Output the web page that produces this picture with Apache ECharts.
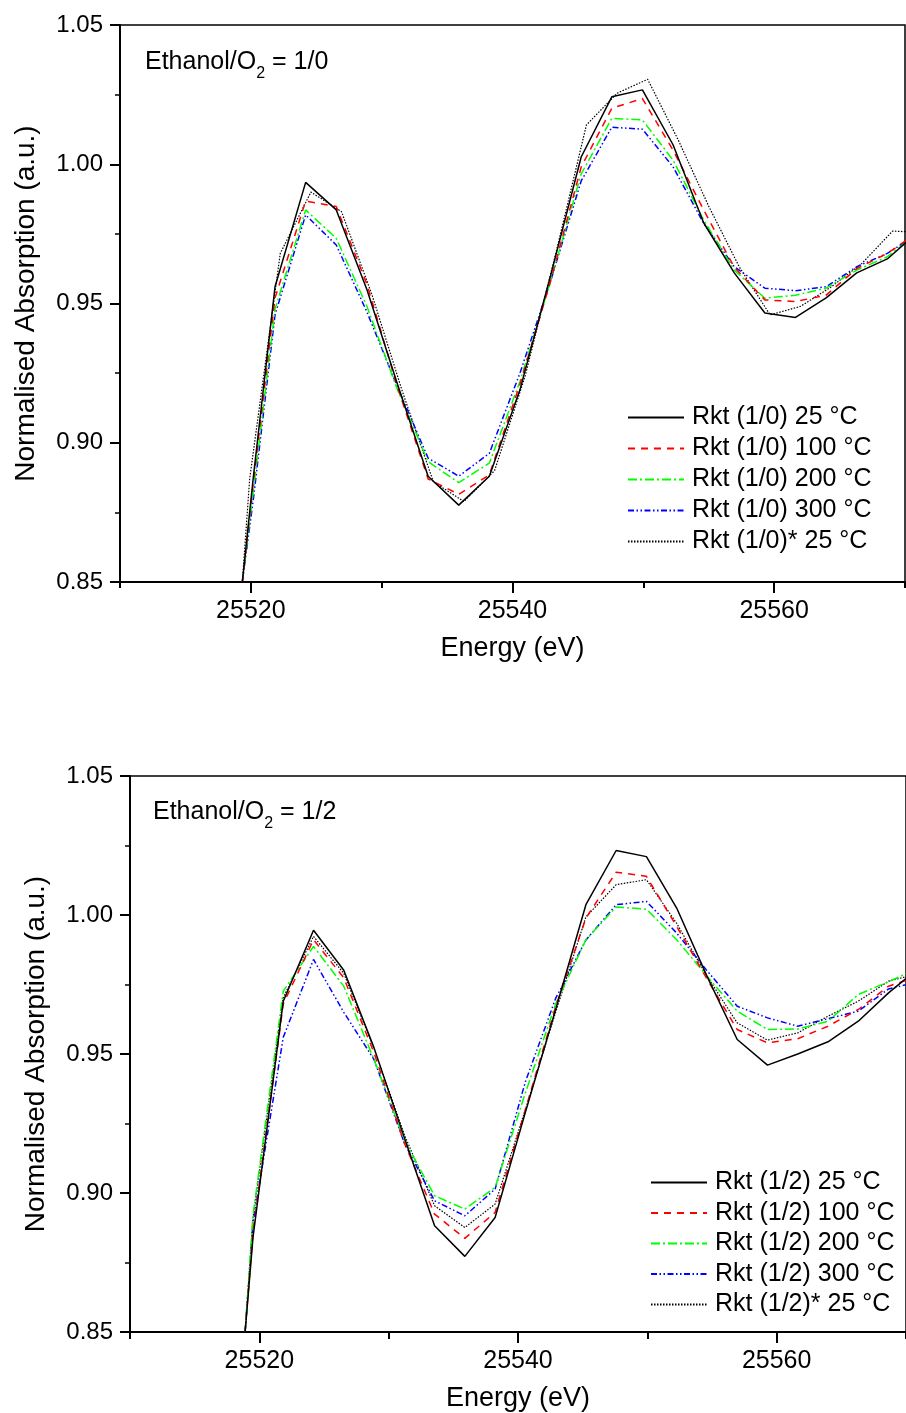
<!DOCTYPE html>
<html>
<head>
<meta charset="utf-8">
<script src="https://cdn.jsdelivr.net/npm/echarts@6/dist/echarts.min.js"></script>
<style>
html,body{margin:0;padding:0;background:#fff;}
#chart{width:906px;height:1413px;}
</style>
</head>
<body>
<div id="chart"></div>
<script>
// ---------- DATA ----------
var topEnergy = [25519.35, 25520.2, 25521.85, 25524.19, 25526.53, 25528.87, 25531.21, 25533.55, 25535.89, 25538.23, 25540.57, 25542.91, 25545.25, 25547.59, 25549.93, 25552.27, 25554.61, 25556.95, 25559.29, 25561.63, 25563.97, 25566.31, 25568.65, 25570.99];
var topEnergyDot = [25519.35, 25519.91, 25522.25, 25524.59, 25526.93, 25529.27, 25531.61, 25533.95, 25536.29, 25538.63, 25540.97, 25543.31, 25545.65, 25547.99, 25550.33, 25552.67, 25555.01, 25557.35, 25559.69, 25562.03, 25564.37, 25566.71, 25569.05, 25571.39];
var top25  = [0.85, 0.888, 0.956, 0.9935, 0.9836, 0.955, 0.921, 0.888, 0.8776, 0.888, 0.919, 0.960, 1.0026, 1.0242, 1.0267, 1.007, 0.979, 0.961, 0.9466, 0.945, 0.952, 0.961, 0.966, 0.9757];
var top100 = [0.85, 0.886, 0.952, 0.9868, 0.9848, 0.957, 0.920, 0.887, 0.8815, 0.8885, 0.921, 0.958, 0.999, 1.0201, 1.0236, 1.0051, 0.9836, 0.963, 0.9513, 0.9507, 0.953, 0.9625, 0.968, 0.9755];
var top200 = [0.85, 0.883, 0.948, 0.9836, 0.9734, 0.949, 0.919, 0.8932, 0.8857, 0.8927, 0.922, 0.958, 0.9965, 1.0165, 1.0159, 1.0015, 0.980, 0.962, 0.9519, 0.953, 0.9555, 0.962, 0.9668, 0.9752];
var top300 = [0.85, 0.880, 0.946, 0.9818, 0.971, 0.947, 0.920, 0.8945, 0.888, 0.8962, 0.925, 0.958, 0.994, 1.0133, 1.0126, 0.9991, 0.9788, 0.9632, 0.9555, 0.9546, 0.956, 0.9632, 0.968, 0.975];
var top25b = [0.85, 0.887, 0.968, 0.990, 0.983, 0.953, 0.918, 0.886, 0.8789, 0.890, 0.924, 0.968, 1.0141, 1.0255, 1.0305, 1.0087, 0.9848, 0.963, 0.9459, 0.949, 0.956, 0.9644, 0.976, 0.9755];

var bottomEnergy = [25518.9, 25519.51, 25521.85, 25524.19, 25526.53, 25528.87, 25531.21, 25533.55, 25535.89, 25538.23, 25540.57, 25542.91, 25545.25, 25547.59, 25549.93, 25552.27, 25554.61, 25556.95, 25559.29, 25561.63, 25563.97, 25566.31, 25568.65, 25570.99];
var bot25  = [0.85, 0.884, 0.969, 0.9945, 0.9801, 0.9522, 0.920, 0.8882, 0.8772, 0.8912, 0.929, 0.966, 1.0037, 1.0232, 1.0210, 1.0025, 0.978, 0.9552, 0.946, 0.950, 0.9544, 0.9618, 0.972, 0.981];
var bot100 = [0.85, 0.886, 0.968, 0.9911, 0.9774, 0.9504, 0.918, 0.8924, 0.8837, 0.893, 0.930, 0.967, 0.9989, 1.0154, 1.0139, 0.9959, 0.977, 0.9588, 0.954, 0.9555, 0.960, 0.966, 0.9744, 0.978];
var bot200 = [0.85, 0.892, 0.9726, 0.9887, 0.9744, 0.948, 0.919, 0.899, 0.8942, 0.902, 0.936, 0.968, 0.9911, 1.0029, 1.0021, 0.9911, 0.978, 0.9654, 0.9588, 0.959, 0.9618, 0.9714, 0.976, 0.981];
var bot300 = [0.85, 0.889, 0.956, 0.984, 0.965, 0.948, 0.918, 0.8972, 0.8918, 0.9014, 0.940, 0.970, 0.991, 1.0037, 1.0049, 0.9935, 0.980, 0.9672, 0.963, 0.960, 0.9627, 0.9654, 0.9734, 0.976];
var bot25b = [0.85, 0.891, 0.9703, 0.9923, 0.979, 0.952, 0.921, 0.8954, 0.8876, 0.896, 0.930, 0.965, 0.9993, 1.0109, 1.0127, 0.997, 0.978, 0.9612, 0.955, 0.9576, 0.9636, 0.969, 0.9762, 0.979];

var topNames = ['Rkt (1/0) 25 °C', 'Rkt (1/0) 100 °C', 'Rkt (1/0) 200 °C', 'Rkt (1/0) 300 °C', 'Rkt (1/0)* 25 °C'];
var botNames = ['Rkt (1/2) 25 °C', 'Rkt (1/2) 100 °C', 'Rkt (1/2) 200 °C', 'Rkt (1/2) 300 °C', 'Rkt (1/2)* 25 °C'];
var xLabelTicks = [25520, 25540, 25560];
var xMinorTicks = [25510, 25530, 25550, 25570];

// ---------- STYLE ----------
var FONT = '"Liberation Sans", Arial, Helvetica, sans-serif';
var styles = [
  {color: '#000000', type: 'solid', width: 1.5},
  {color: '#ff0000', type: [7, 6], width: 1.5},
  {color: '#00ff00', type: [9, 3, 2, 3], width: 1.5},
  {color: '#0000ff', type: [6, 2.5, 1.5, 2.5, 1.5, 2.5], width: 1.5},
  {color: '#000000', type: [1.5, 1.5], width: 1.2}
];

function pairs(xs, ys) { return xs.map(function (x, i) { return [x, ys[i]]; }); }

var topSets = [[topEnergy, top25], [topEnergy, top100], [topEnergy, top200], [topEnergy, top300], [topEnergyDot, top25b]];
var botSets = [[bottomEnergy, bot25], [bottomEnergy, bot100], [bottomEnergy, bot200], [bottomEnergy, bot300], [bottomEnergy, bot25b]];

var series = [];
topSets.forEach(function (s, i) {
  series.push({
    name: topNames[i], type: 'line', xAxisIndex: 0, yAxisIndex: 0,
    data: pairs(s[0], s[1]), symbol: 'none', clip: true, z: 10 - i,
    lineStyle: styles[i], itemStyle: {color: styles[i].color}
  });
});
botSets.forEach(function (s, i) {
  series.push({
    name: botNames[i], type: 'line', xAxisIndex: 2, yAxisIndex: 2,
    data: pairs(s[0], s[1]), symbol: 'none', clip: true, z: 10 - i,
    lineStyle: styles[i], itemStyle: {color: styles[i].color}
  });
});

var gridTop = {left: 120, top: 25, width: 785, height: 557};
var gridBot = {left: 130, top: 776, width: 784, height: 557};

function mainX(gridIndex) {
  return {
    type: 'value', gridIndex: gridIndex, min: 25510, max: 25570, interval: 10,
    name: 'Energy (eV)', nameLocation: 'middle', nameGap: 53,
    nameTextStyle: {fontSize: 27, color: '#000', fontFamily: FONT},
    axisLine: {show: true, lineStyle: {color: '#000', width: 2}},
    axisTick: {show: true, inside: false, length: 11, customValues: xLabelTicks, lineStyle: {color: '#000', width: 2}},
    axisLabel: {show: true, customValues: xLabelTicks, margin: 17, fontSize: 25, color: '#000', fontFamily: FONT,
      formatter: function (v) { return String(Math.round(v)); }},
    splitLine: {show: false}
  };
}
function minorX(gridIndex) {
  return {
    type: 'value', gridIndex: gridIndex, min: 25510, max: 25570, interval: 10,
    axisLine: {show: false},
    axisTick: {show: true, inside: false, length: 6, customValues: xMinorTicks, lineStyle: {color: '#000', width: 2}},
    axisLabel: {show: false}, splitLine: {show: false}
  };
}
function mainY(gridIndex) {
  return {
    type: 'value', gridIndex: gridIndex, min: 0.85, max: 1.05, interval: 0.05,
    name: 'Normalised Absorption (a.u.)', nameLocation: 'middle', nameGap: 80,
    nameTextStyle: {fontSize: 28, color: '#000', fontFamily: FONT},
    axisLine: {show: true, lineStyle: {color: '#000', width: 2}},
    axisTick: {show: true, inside: false, length: 10, lineStyle: {color: '#000', width: 2}},
    minorTick: {show: true, splitNumber: 2, length: 5, lineStyle: {color: '#000', width: 1.5}},
    axisLabel: {margin: 17, fontSize: 24, color: '#000', fontFamily: FONT,
      formatter: function (v) { return v.toFixed(2); }},
    splitLine: {show: false}, minorSplitLine: {show: false}
  };
}
function hiddenY(gridIndex) {
  return {type: 'value', gridIndex: gridIndex, min: 0.85, max: 1.05, show: false};
}

function legendFor(names, left, top, gap) {
  return {
    data: names, orient: 'vertical', left: left, top: top, padding: 0,
    itemWidth: 56, itemHeight: 14, itemGap: gap,
    itemStyle: {opacity: 0},
    textStyle: {fontSize: 25, color: '#000', fontFamily: FONT, padding: [0, 0, 0, 3]},
    selectedMode: false
  };
}

// annotation "Ethanol/O2 = r" with a real subscript, pieces placed by measured widths
var ctx = document.createElement('canvas').getContext('2d');
function textW(t, size) { ctx.font = size + 'px "Liberation Sans", Arial, sans-serif'; return ctx.measureText(t).width; }
function annotation(left, top, ratio) {
  var wA = textW('Ethanol/O', 25), w2 = textW('2', 16);
  var base = {fontSize: 25, fontFamily: FONT, fill: '#000'};
  return [
    {type: 'text', left: left, top: top, z: 100, style: Object.assign({text: 'Ethanol/O'}, base)},
    {type: 'text', left: left + wA, top: top + 16, z: 100, style: {text: '2', fontSize: 16, fontFamily: FONT, fill: '#000'}},
    {type: 'text', left: left + wA + w2, top: top, z: 100, style: Object.assign({text: ' = ' + ratio}, base)}
  ];
}

var option = {
  backgroundColor: '#fff',
  animation: false,
  grid: [
    Object.assign({show: true, borderColor: '#000', borderWidth: 1.5, backgroundColor: 'transparent'}, gridTop),
    Object.assign({show: false}, gridTop),
    Object.assign({show: true, borderColor: '#000', borderWidth: 1.5, backgroundColor: 'transparent'}, gridBot),
    Object.assign({show: false}, gridBot)
  ],
  xAxis: [mainX(0), minorX(1), mainX(2), minorX(3)],
  yAxis: [mainY(0), hiddenY(1), mainY(2), hiddenY(3)],
  legend: [legendFor(topNames, 627, 405, 6), legendFor(botNames, 650, 1170, 5.5)],
  graphic: annotation(145, 50, '1/0').concat(annotation(153, 800, '1/2')),
  series: series
};

var chart = echarts.init(document.getElementById('chart'), null, {renderer: 'canvas'});
chart.setOption(option);
</script>
</body>
</html>
